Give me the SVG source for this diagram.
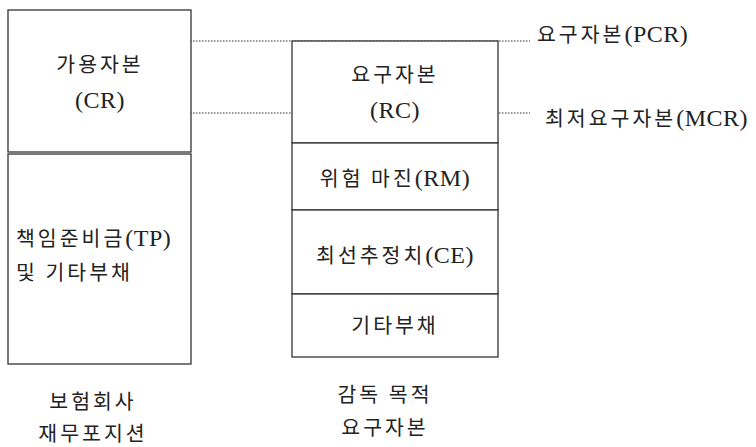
<svg xmlns="http://www.w3.org/2000/svg" width="756" height="447" viewBox="0 0 756 447">
<style>
.box{fill:#fff;stroke:#333;stroke-width:1.3}
.t{font-family:"Noto Sans CJK KR",serif;font-size:20.5px;fill:#222;letter-spacing:3px}
.l{font-family:"Liberation Serif","DejaVu Serif",serif;font-size:24px;letter-spacing:0.5px}
.c{text-anchor:middle}
.dot{stroke:#333;stroke-width:1;stroke-dasharray:1.5 1.5;fill:none}
</style>
<rect width="756" height="447" fill="#fff"/>
<g id="connectors">
<line class="dot" x1="187" y1="41" x2="530" y2="41"/>
<line class="dot" x1="190" y1="113" x2="530" y2="113"/>
</g>
<g id="cr">
<rect class="box" x="8" y="10" width="183" height="142"/>
<text class="t c" x="100" y="72">가용자본</text>
<text class="t c" x="100" y="108"><tspan class="l">(CR)</tspan></text>
</g>
<g id="tp">
<rect class="box" x="8" y="154" width="183" height="210"/>
<text class="t" x="16" y="246">책임준비금<tspan class="l">(TP)</tspan></text>
<text class="t" x="16" y="280">및 기타부채</text>
</g>
<g id="rc">
<rect class="box" x="292" y="41" width="206" height="102"/>
<text class="t c" x="395" y="82">요구자본</text>
<text class="t c" x="395" y="118"><tspan class="l">(RC)</tspan></text>
</g>
<g id="rm">
<rect class="box" x="292" y="143" width="206" height="67"/>
<text class="t c" x="395" y="186">위험 마진<tspan class="l">(RM)</tspan></text>
</g>
<g id="ce">
<rect class="box" x="292" y="210" width="206" height="84"/>
<text class="t c" x="395" y="263">최선추정치<tspan class="l">(CE)</tspan></text>
</g>
<g id="other">
<rect class="box" x="292" y="294" width="206" height="63"/>
<text class="t c" x="395" y="333">기타부채</text>
</g>
<g id="pcr">
<text class="t" x="537" y="42">요구자본<tspan class="l">(PCR)</tspan></text>
</g>
<g id="mcr">
<text class="t" x="545" y="126">최저요구자본<tspan class="l">(MCR)</tspan></text>
</g>
<g id="label-left">
<text class="t c" x="93" y="409">보험회사</text>
<text class="t c" x="93" y="441">재무포지션</text>
</g>
<g id="label-right">
<text class="t c" x="385" y="402">감독 목적</text>
<text class="t c" x="385" y="435">요구자본</text>
</g>
</svg>
